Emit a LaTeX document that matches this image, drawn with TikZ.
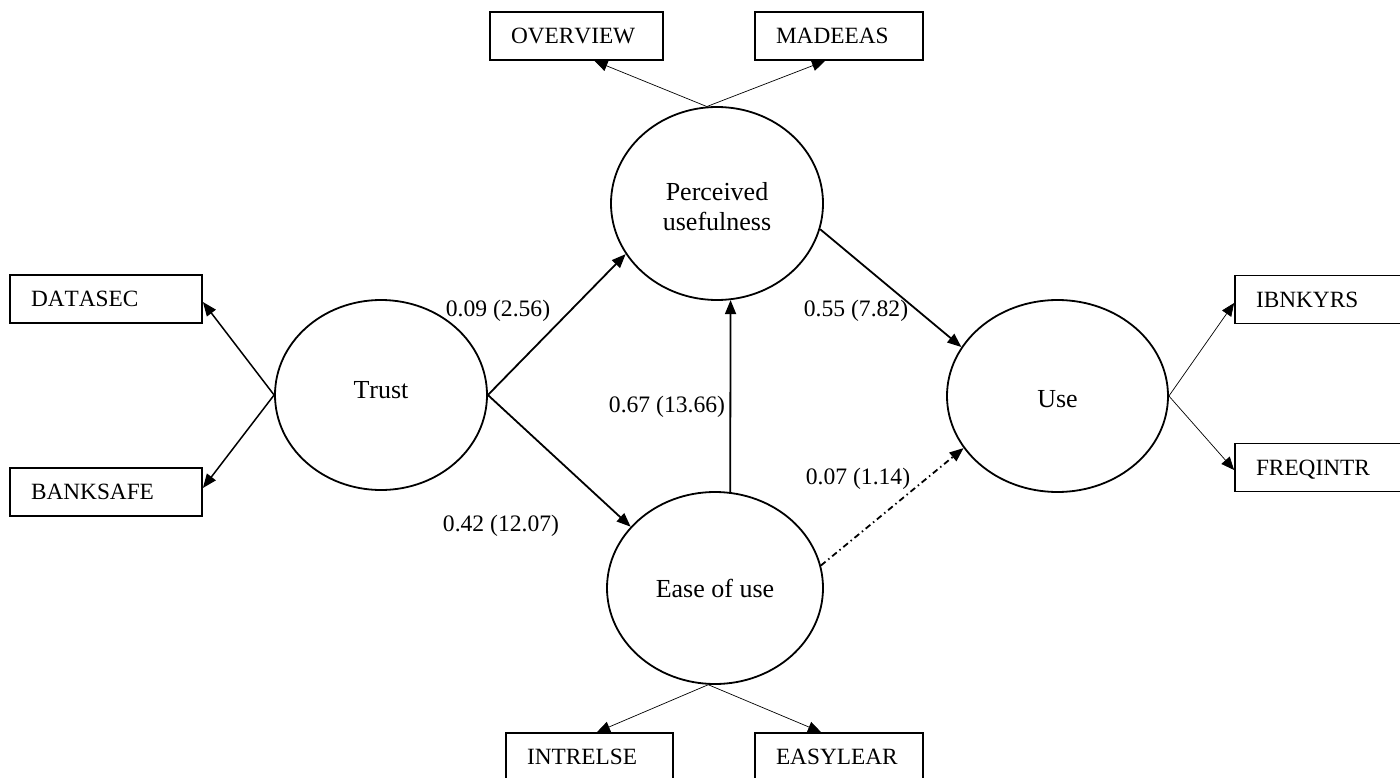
\documentclass[tikz,border=0pt]{standalone}
\usepackage{fontspec}
\setmainfont[Kerning=Off]{Liberation Serif}
\usetikzlibrary{shapes.geometric,arrows.meta}
\begin{document}
\begin{tikzpicture}[x=1pt,y=-1pt,
  latent/.style={ellipse,draw,line width=1.8pt,inner sep=0pt,font=\fontsize{26}{30}\selectfont,align=center},
  indbox/.style={rectangle,draw,line width=1.8pt,minimum height=48pt,inner xsep=21pt,inner ysep=0pt,align=left,text height=15.5pt,text depth=0pt,font=\fontsize{23.3}{28}\selectfont},
  coef/.style={anchor=base,inner sep=0pt,font=\fontsize{23.6}{28}\selectfont},
  strpath/.style={line width=1.8pt,-{Triangle[length=14pt,width=11pt]}},
  loadthin/.style={line width=0.7pt,-{Triangle[length=13pt,width=11pt]}},
  loadthick/.style={line width=1.5pt,-{Triangle[length=14pt,width=11pt]}},
]
\path[clip] (0,0) rectangle (1400,778);
\fill[white] (0,0) rectangle (1400,778);

% latent variables
\node[latent,minimum width=212pt,minimum height=190pt,text height=14pt,text depth=8pt] (trust) at (381,395) {Trust};
\node[latent,minimum width=212pt,minimum height=193pt,text height=53pt,text depth=0pt] (pu) at (717,203.5) {Perceived\\usefulness};
\node[latent,minimum width=216pt,minimum height=192pt] (eou) at (715,588) {Ease of use};
\node[latent,minimum width=221pt,minimum height=192pt,text height=22pt,text depth=0pt] (use) at (1057.5,396) {Use};

% indicators
\node[indbox,minimum width=173pt,text width=131pt] (overview) at (576.5,36) {OVERVIEW};
\node[indbox,minimum width=168pt,text width=126pt] (madeeas) at (839,36) {MADEEAS};
\node[indbox,minimum width=192pt,text width=150pt] (datasec) at (106,299) {DATASEC};
\node[indbox,minimum width=192pt,text width=150pt] (banksafe) at (106,492) {BANKSAFE};
\node[indbox,minimum width=172pt,text width=130pt] (ibnkyrs) at (1321,299.5) {IBNKYRS};
\node[indbox,minimum width=172pt,text width=130pt] (freqintr) at (1321,467.5) {FREQINTR};
\node[indbox,minimum width=167pt,text width=125pt] (intrelse) at (589.5,757) {INTRELSE};
\node[indbox,minimum width=168pt,text width=126pt] (easylear) at (839,757) {EASYLEAR};

% structural paths
\draw[strpath] (trust.east) -- (pu.209);
\draw[strpath] (trust.east) -- (eou.144);
\draw[strpath] (eou.81) -- (pu.-82);
\draw[strpath] (pu.-14) -- (use.153);
\draw[strpath,dash pattern=on 6pt off 3.5pt on 1.5pt off 3.5pt] (eou.12) -- (use.209);

% loadings
\draw[loadthin] (pu.96) -- ([xshift=18pt]overview.south);
\draw[loadthin] (pu.96) -- ([xshift=-14pt]madeeas.south);
\draw[loadthick] (trust.west) -- ([yshift=-3pt]datasec.east);
\draw[loadthick] (trust.west) -- ([yshift=4pt]banksafe.east);
\draw[loadthin] (use.east) -- ([yshift=-3.5pt]ibnkyrs.west);
\draw[loadthin] (use.east) -- ([yshift=-2.5pt]freqintr.west);
\draw[loadthin] (eou.-94) -- ([xshift=7.5pt]intrelse.north);
\draw[loadthin] (eou.-94) -- ([xshift=-18pt]easylear.north);

% coefficients
\node[coef] (c1) at (498,316) {0.09 (2.56)};
\node[coef] (c2) at (501,531) {0.42 (12.07)};
\node[coef] (c3) at (667,412) {0.67 (13.66)};
\node[coef] (c4) at (856,316) {0.55 (7.82)};
\node[coef] (c5) at (858,484) {0.07 (1.14)};
\end{tikzpicture}
\end{document}
